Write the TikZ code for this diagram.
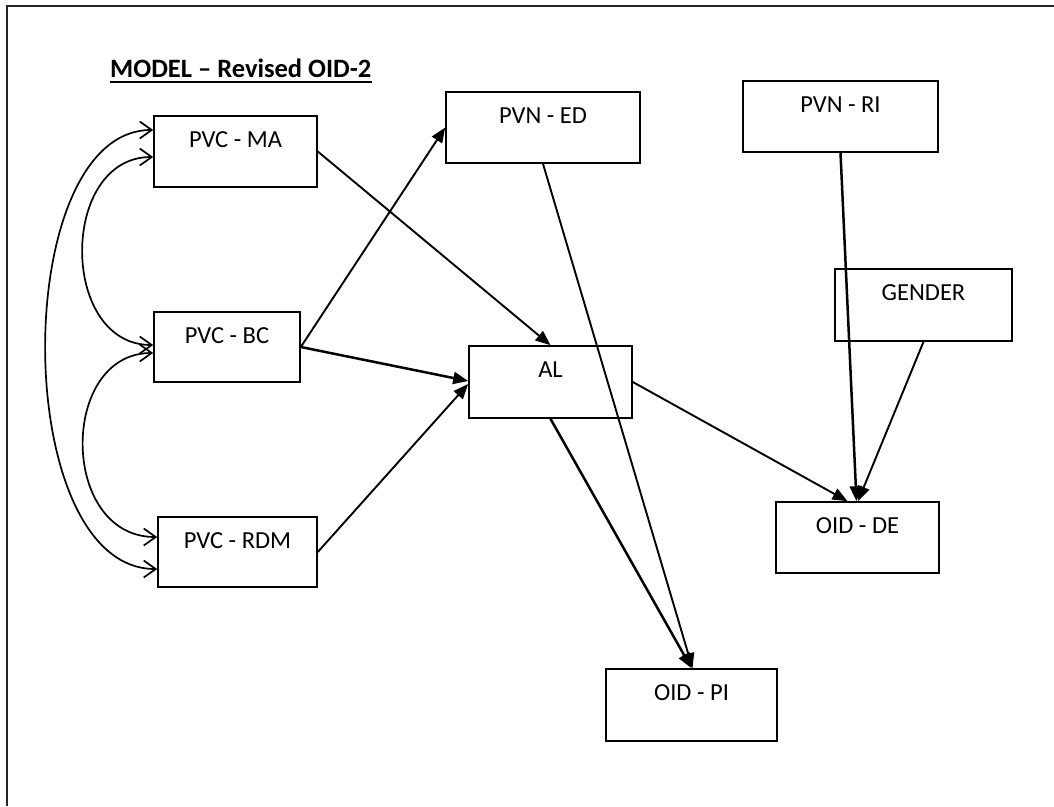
\documentclass[tikz,border=0pt]{standalone}
\usepackage{fontspec}
\setmainfont{Carlito}
\usetikzlibrary{arrows.meta}

\tikzset{
  varbox/.style={draw=black, line width=1.6pt, inner sep=0pt},
  boxtext/.style={anchor=base, inner sep=0pt, font=\fontsize{24.5pt}{29pt}\selectfont},
  regarrow/.style={draw=black, line width=1.9pt, -{Triangle[length=15pt,width=12pt]}},
  heavyarrow/.style={regarrow, line width=2.5pt},
  covar/.style={draw=black, line width=1.7pt,
    {Straight Barb[length=12pt,width=17pt,line width=1.7pt]}-{Straight Barb[length=12pt,width=17pt,line width=1.7pt]}}
}

\begin{document}
\begin{tikzpicture}[x=1pt, y=-1pt]
\useasboundingbox (0,0) rectangle (1054,806);

% page frame (left and top edges)
\draw[line width=1.7pt, black!85] (7,806) -- (7,6) -- (1054,6);

% heading
\node[anchor=base west, inner sep=0pt, font=\fontsize{26.5pt}{31pt}\selectfont\bfseries]
  (title) at (110,77) {MODEL – Revised OID-2};
\draw[line width=2pt] ([yshift=-4.5pt]title.base west) -- ([yshift=-4.5pt]title.base east);

% variable boxes
\node[varbox, minimum width=163pt, minimum height=71pt] (ma)  at (235.5,151.5) {};
\node[varbox, minimum width=146pt, minimum height=70pt] (bc)  at (227,347) {};
\node[varbox, minimum width=159pt, minimum height=70pt] (rdm) at (237.5,552) {};
\node[varbox, minimum width=194pt, minimum height=71pt] (ed)  at (543,127.5) {};
\node[varbox, minimum width=195pt, minimum height=71pt] (ri)  at (840.5,116.5) {};
\node[varbox, minimum width=177pt, minimum height=72pt] (gender) at (923.5,305) {};
\node[varbox, minimum width=163pt, minimum height=72pt] (al)  at (550.5,382) {};
\node[varbox, minimum width=163pt, minimum height=71pt] (de)  at (857.5,537.5) {};
\node[varbox, minimum width=171pt, minimum height=72pt] (pi)  at (691.5,705) {};

% box labels, set on the first line of each box
\node[boxtext] (ma-t)  at ([yshift=-32pt]ma.north)  {PVC - MA};
\node[boxtext] (bc-t)  at ([yshift=-32pt]bc.north)  {PVC - BC};
\node[boxtext] (rdm-t) at ([yshift=-32pt]rdm.north) {PVC - RDM};
\node[boxtext] (ed-t)  at ([yshift=-32pt]ed.north)  {PVN - ED};
\node[boxtext] (ri-t)  at ([yshift=-32pt]ri.north)  {PVN - RI};
\node[boxtext] (gender-t) at ([yshift=-32pt]gender.north) {GENDER};
\node[boxtext] (al-t)  at ([yshift=-32pt]al.north)  {AL};
\node[boxtext] (de-t)  at ([yshift=-32pt]de.north)  {OID - DE};
\node[boxtext] (pi-t)  at ([yshift=-32pt]pi.north)  {OID - PI};

% directed paths
\draw[regarrow] (ma.east) -- (al.north);
\draw[regarrow] (bc.east) -- (ed.west);
\draw[heavyarrow] (bc.east) -- ([yshift=1pt]al.west);
\draw[regarrow] (rdm.east) -- ([yshift=-2pt]al.west);
\draw[regarrow] (al.east) -- ([xshift=-10pt]de.north);
\draw[heavyarrow] (ri.south) -- ([xshift=-1pt]de.north);
\draw[regarrow] (gender.south) -- ([xshift=0.5pt]de.north);
\draw[heavyarrow] (al.south) -- (pi.north);
\draw[regarrow] (ed.south) -- ([xshift=1pt]pi.north);

% covariances among the PVC variables
\draw[covar] ([yshift=-5.5pt]ma.west) .. controls +(-94,0) and +(-94,0) .. ([yshift=2pt]bc.west);
\draw[covar] ([yshift=21.5pt]ma.west) .. controls +(-144,0) and +(-148,0) .. ([yshift=-17pt]rdm.west);
\draw[covar] ([yshift=-6pt]bc.west) .. controls +(-94,0) and +(-98,0) .. ([yshift=15pt]rdm.west);
\end{tikzpicture}
\end{document}
